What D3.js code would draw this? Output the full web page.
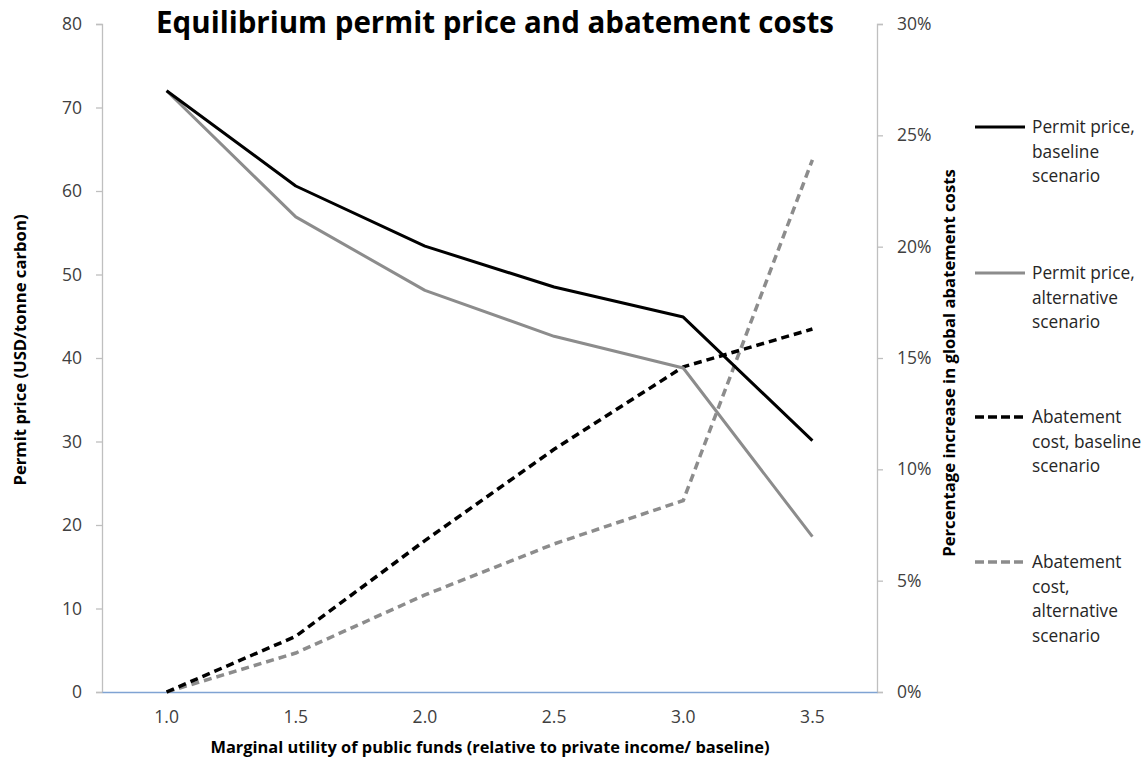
<!DOCTYPE html>
<html>
<head>
<meta charset="utf-8">
<script src="https://cdn.jsdelivr.net/npm/d3@7"></script>
<style>
  body { margin: 0; background: #fff; }
  svg { display: block; font-family: "Open Sans", sans-serif; }
</style>
</head>
<body>
<div id="chart"></div>
<script>
// data
const categories = ["1.0", "1.5", "2.0", "2.5", "3.0", "3.5"];
const priceBaseline = [72.0, 60.6, 53.4, 48.5, 44.9, 30.1];
const priceAlternative = [72.0, 56.9, 48.1, 42.6, 38.8, 18.6];
const costBaseline = [0.0, 0.025, 0.068, 0.109, 0.146, 0.163];
const costAlternative = [0.0, 0.0175, 0.0436, 0.0665, 0.086, 0.239];
const leftTicks = [0, 10, 20, 30, 40, 50, 60, 70, 80];
const rightTicks = [0, 0.05, 0.10, 0.15, 0.20, 0.25, 0.30];

const legendItems = [
  { lines: ["Permit price,", "baseline", "scenario"], color: "#000", dash: null },
  { lines: ["Permit price,", "alternative", "scenario"], color: "#8c8c8c", dash: null },
  { lines: ["Abatement", "cost, baseline", "scenario"], color: "#000", dash: "8,5" },
  { lines: ["Abatement", "cost,", "alternative", "scenario"], color: "#8c8c8c", dash: "8,5" }
];

const width = 1146, height = 761;
const plot = { left: 102, right: 877, top: 24, bottom: 692 };

const svg = d3.select("#chart").append("svg")
  .attr("width", width)
  .attr("height", height);

const x = d3.scaleBand().domain(categories).range([plot.left, plot.right]).padding(0);
const yL = d3.scaleLinear().domain([0, 80]).range([plot.bottom, plot.top]);
const yR = d3.scaleLinear().domain([0, 0.30]).range([plot.bottom, plot.top]);

const cx = d => x(d) + x.bandwidth() / 2;

function styleTicks(g) {
  g.selectAll(".tick text")
    .attr("fill", "#404040")
    .style("font-size", "17.5px")
    .style("font-family", "'Open Sans', sans-serif");
}

// left axis
const leftAxis = svg.append("g")
  .attr("transform", `translate(${plot.left},0)`)
  .call(d3.axisLeft(yL).tickValues(leftTicks).tickSize(6).tickPadding(14).tickFormat(d3.format("d")));
leftAxis.select(".domain").attr("stroke", "#bfbfbf").attr("stroke-width", 1.3);
leftAxis.selectAll(".tick line").attr("stroke", "#bfbfbf").attr("stroke-width", 1.3);
styleTicks(leftAxis);

// right axis
const rightAxis = svg.append("g")
  .attr("transform", `translate(${plot.right},0)`)
  .call(d3.axisRight(yR).tickValues(rightTicks).tickSize(6).tickPadding(14).tickFormat(d3.format(".0%")));
rightAxis.select(".domain").attr("stroke", "#bfbfbf").attr("stroke-width", 1.3);
rightAxis.selectAll(".tick line").attr("stroke", "#bfbfbf").attr("stroke-width", 1.3);
styleTicks(rightAxis);

// bottom axis (no ticks, blue baseline)
const bottomAxis = svg.append("g")
  .attr("transform", `translate(0,${plot.bottom})`)
  .call(d3.axisBottom(x).tickSize(0).tickPadding(19));
bottomAxis.select(".domain").attr("stroke", "#7fa3d3").attr("stroke-width", 1.5);
styleTicks(bottomAxis);

// series lines
const lineL = d3.line().x((d, i) => cx(categories[i])).y(d => yL(d));
const lineR = d3.line().x((d, i) => cx(categories[i])).y(d => yR(d));

const series = [
  { data: costAlternative, gen: lineR, color: "#8c8c8c", dash: "8,5" },
  { data: costBaseline, gen: lineR, color: "#000", dash: "8,5" },
  { data: priceAlternative, gen: lineL, color: "#8c8c8c", dash: null },
  { data: priceBaseline, gen: lineL, color: "#000", dash: null }
];

svg.append("g").selectAll("path")
  .data(series)
  .join("path")
  .attr("d", s => s.gen(s.data))
  .attr("fill", "none")
  .attr("stroke", s => s.color)
  .attr("stroke-width", s => s.dash ? 3.5 : 3)
  .attr("stroke-dasharray", s => s.dash)
  .attr("stroke-linejoin", "round");

// title
svg.append("text")
  .attr("x", 495).attr("y", 33)
  .attr("text-anchor", "middle")
  .style("font-size", "29.5px").style("font-weight", "bold")
  .attr("fill", "#000")
  .text("Equilibrium permit price and abatement costs");

// axis titles
svg.append("text")
  .attr("transform", `translate(26,350) rotate(-90)`)
  .attr("text-anchor", "middle")
  .style("font-size", "16.7px").style("font-weight", "bold")
  .text("Permit price (USD/tonne carbon)");

svg.append("text")
  .attr("transform", `translate(955,363) rotate(-90)`)
  .attr("text-anchor", "middle")
  .style("font-size", "16.7px").style("font-weight", "bold")
  .text("Percentage increase in global abatement costs");

svg.append("text")
  .attr("x", 490).attr("y", 753)
  .attr("text-anchor", "middle")
  .style("font-size", "16.4px").style("font-weight", "bold")
  .text("Marginal utility of public funds (relative to private income/ baseline)");

// legend
const legendY = [127, 273, 417, 562];
const legend = svg.append("g");
legendItems.forEach((item, i) => {
  const g = legend.append("g").attr("transform", `translate(975,${legendY[i]})`);
  g.append("line")
    .attr("x1", 0).attr("x2", 50).attr("y1", 0).attr("y2", 0)
    .attr("stroke", item.color)
    .attr("stroke-width", item.dash ? 3.5 : 3)
    .attr("stroke-dasharray", item.dash ? "9,4" : null);
  g.append("text")
    .attr("fill", "#262626")
    .style("font-size", "17.3px")
    .selectAll("tspan")
    .data(item.lines)
    .join("tspan")
    .attr("x", 57)
    .attr("y", (d, j) => j * 24.5)
    .attr("dy", "0.35em")
    .text(d => d);
});
</script>
</body>
</html>
